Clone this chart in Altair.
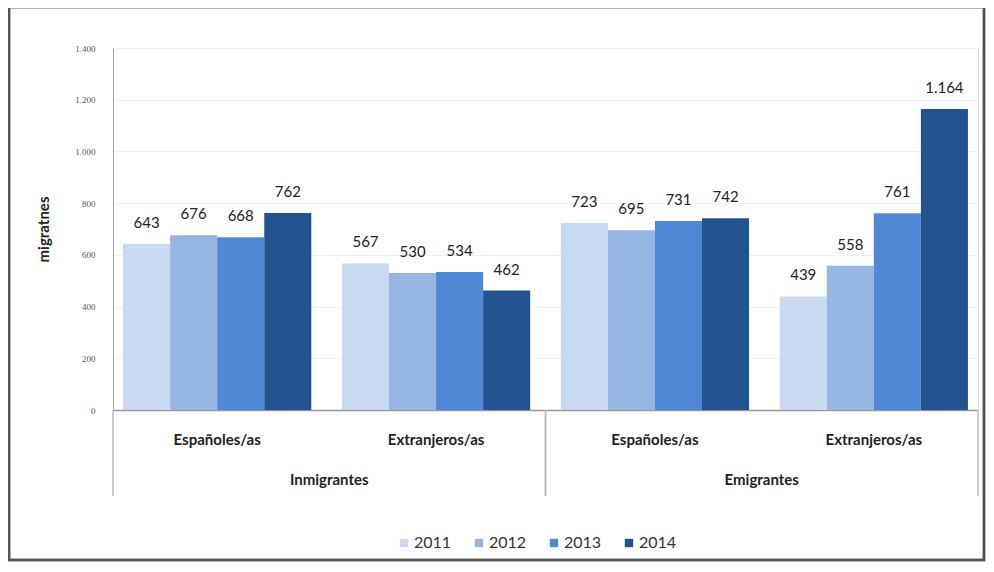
import altair as alt
import pandas as pd

groups = ["Inmigrantes", "Emigrantes"]
categories = ["Españoles/as", "Extranjeros/as"]
years = ["2011", "2012", "2013", "2014"]
inm_esp = [643, 676, 668, 762]
inm_ext = [567, 530, 534, 462]
emi_esp = [723, 695, 731, 742]
emi_ext = [439, 558, 761, 1164]
colors = ["#c9d9ef", "#97b5e2", "#4f88d4", "#22528f"]
y_ticks = [0, 200, 400, 600, 800, 1000, 1200, 1400]

series = {
    ("Inmigrantes", "Españoles/as"): inm_esp,
    ("Inmigrantes", "Extranjeros/as"): inm_ext,
    ("Emigrantes", "Españoles/as"): emi_esp,
    ("Emigrantes", "Extranjeros/as"): emi_ext,
}
rows = []
keys = []
for g in groups:
    for c in categories:
        k = g + "|" + c
        keys.append(k)
        for y, v in zip(years, series[(g, c)]):
            rows.append({"key": k, "group": g, "cat": c, "year": y, "value": v})
df = pd.DataFrame(rows)
gdf = pd.DataFrame({"group": groups})

W, H = 865, 362
FONT = "Lato"

xscale = alt.Scale(domain=keys, paddingInner=0.14, paddingOuter=0.046)
yscale = alt.Scale(domain=[0, 1400])
cscale = alt.Scale(domain=years, range=colors)

base = alt.Chart(df)

bars = base.mark_bar().encode(
    x=alt.X("key:N", scale=xscale, sort=keys,
            axis=alt.Axis(title=None, labelExpr="split(datum.value, '|')[1]",
                          labelAngle=0, labelFont=FONT, labelFontSize=15,
                          labelFontWeight="bold", labelColor="#222",
                          labelPadding=22, ticks=False, domain=True,
                          domainColor="#999", domainWidth=1.5)),
    xOffset=alt.XOffset("year:N", sort=years, scale=alt.Scale(paddingInner=0, paddingOuter=0)),
    y=alt.Y("value:Q", scale=yscale,
            axis=alt.Axis(title="migratnes", values=y_ticks,
                          labelExpr="replace(format(datum.value, ','), ',', '.')",
                          labelFont="Liberation Serif", labelFontSize=9,
                          labelColor="#555", labelPadding=18, ticks=False,
                          domainColor="#aaa", gridColor="#f1f1f1",
                          titleFont=FONT, titleFontSize=15, titleFontWeight="bold",
                          titleColor="#222", titleAngle=270, titleX=-62, titleY=181,
                          titleBaseline="bottom")),
    color=alt.Color("year:N", scale=cscale, sort=years,
                    legend=alt.Legend(title=None, orient="none", direction="horizontal",
                                      columns=4, legendX=283, legendY=487,
                                      symbolType="square", symbolSize=70,
                                      symbolStrokeWidth=0, labelFont=FONT,
                                      labelFontSize=16, labelColor="#333",
                                      labelOffset=2, columnPadding=19)),
)

labels = base.transform_calculate(
    lbl="replace(format(datum.value, ','), ',', '.')"
).mark_text(baseline="middle", dy=-21, font=FONT, fontSize=15, color="#222").encode(
    x=alt.X("key:N", scale=xscale, sort=keys, axis=None),
    xOffset=alt.XOffset("year:N", sort=years, scale=alt.Scale(paddingInner=0, paddingOuter=0)),
    y=alt.Y("value:Q", scale=yscale),
    text="lbl:N",
)

gscale = alt.Scale(domain=groups, paddingInner=0, paddingOuter=0)
glabels = alt.Chart(gdf).mark_text(font=FONT, fontSize=15, fontWeight="bold",
                                   color="#222", baseline="middle").encode(
    x=alt.X("group:N", scale=gscale, sort=groups, axis=None),
    y=alt.value(432),
    text="group:N",
)
sep_left = alt.Chart(gdf).mark_rule(color="#bbb", strokeWidth=1.5).encode(
    x=alt.X("group:N", scale=gscale, sort=groups, axis=None, bandPosition=0),
    y=alt.value(H), y2=alt.value(448),
)
sep_right = alt.Chart(gdf).mark_rule(color="#bbb", strokeWidth=1.5).encode(
    x=alt.X("group:N", scale=gscale, sort=groups, axis=None, bandPosition=1),
    y=alt.value(H), y2=alt.value(448),
)
frame = alt.Chart(gdf).mark_rect(fill=None, stroke="#555", strokeWidth=2.5).encode(
    x=alt.value(-104), x2=alt.value(871), y=alt.value(-41), y2=alt.value(512),
)

chart = alt.layer(frame, sep_left, sep_right, bars, labels, glabels).resolve_scale(
    x="independent"
).properties(
    width=W, height=H,
    autosize=alt.AutoSizeParams(type="none"),
    padding={"left": 105, "top": 40, "right": 8, "bottom": 152},
).configure_view(stroke=None).configure(background="white")

chart.save("out.html", embed_options={"renderer": "svg", "actions": False})
